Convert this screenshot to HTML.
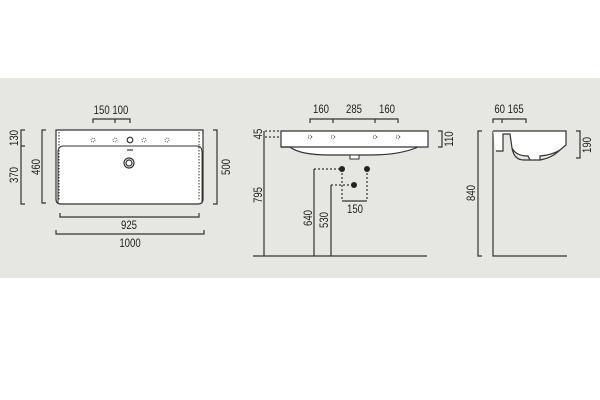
<!DOCTYPE html>
<html><head><meta charset="utf-8"><style>
html,body{margin:0;padding:0;background:#fff}
svg{display:block}
text{font-family:"Liberation Sans Narrow","Liberation Sans",sans-serif;font-size:12px;fill:#222}
</style></head><body>
<svg width="600" height="400" viewBox="0 0 600 400">
<rect x="0" y="78" width="600" height="200" fill="#e6e6e2"/>
<g stroke="#333" fill="none" stroke-width="1.2">
<path d="M56,130 H203 V199 Q203,204 198,204 H61 Q56,204 56,199 Z" fill="#fff"/>
<path d="M58,203 V152 Q58,146 64,146 H196 Q202,146 202,152 V203" stroke-width="1"/>
<path d="M59,132 V200 M199,132 V200" stroke-dasharray="1.5,1.5" stroke-width="1"/>
<circle cx="93" cy="140" r="2" stroke-width="0.8" stroke-dasharray="1,1"/>
<circle cx="115" cy="140" r="2" stroke-width="0.8" stroke-dasharray="1,1"/>
<circle cx="130" cy="140" r="2.8"/>
<circle cx="144" cy="140" r="2" stroke-width="0.8" stroke-dasharray="1,1"/>
<circle cx="167" cy="140" r="2" stroke-width="0.8" stroke-dasharray="1,1"/>
<line x1="127" y1="150" x2="133" y2="150"/>
<circle cx="129" cy="163" r="5"/><circle cx="129" cy="163" r="3"/>
<path d="M93,123 V119 H130 V123 M115,119 V123"/>
<path d="M25,130 H21 V204 H25 M21,146 H25"/>
<path d="M46,130 H42 V203 H46"/>
<path d="M213,130 H217 V204 H213"/>
<path d="M60,213 V217 H199 V213"/>
<path d="M56,230 V234 H204 V230"/>
<path d="M281,131 H428 V147 H418 Q400,155 370,155 H330 Q300,155 290,147 H281 Z" fill="#fff"/>
<line x1="281" y1="147" x2="418" y2="147"/>
<rect x="350" y="155" width="9" height="4" fill="#fff" stroke-width="1"/>
<g stroke-width="0.8" stroke-dasharray="1,1">
<circle cx="310" cy="137" r="1.8"/><circle cx="333" cy="137" r="1.8"/><circle cx="375" cy="137" r="1.8"/><circle cx="398" cy="137" r="1.8"/>
</g>
<path d="M310,123 V119 H398 V123 M333,119 V123 M375,119 V123"/>
<path d="M265,131 H281 M265,137 H281" stroke-dasharray="2,2"/>
<path d="M264,131 V256"/>
<path d="M253,256 H427"/>
<path d="M314,256 V169"/><path d="M314,169 H342 M331,185 H354 M342,169 V201 M367,169 V201" stroke-dasharray="2,2"/>
<path d="M331,256 V185"/>
<path d="M342,201 H367"/>
<path d="M438,131 H442 V147 H438"/>
<path d="M493,123 V119 H526 V123 M502,119 V123"/>
<path d="M493,131 V256 H567"/>
<path d="M493,131 H566 V145 L560,150 Q552,155 540,156 L540,160 H530 L528,156 Q516,156 512,148 L510,134 H503 V151 H496" fill="#fff"/>
<path d="M512,148 Q514,160 524,160 H530 M540,160 Q552,158 560,150"/>
<path d="M576,131 H580 V158 H576"/>
<path d="M482,131 H478 V256 H482"/>
</g>
<circle cx="342" cy="169" r="3" fill="#222"/><circle cx="367" cy="169" r="3" fill="#222"/><circle cx="354" cy="185" r="3" fill="#222"/>
<g text-anchor="middle">
<text transform="translate(111,114) scale(0.8,1)">150 100</text>
<text transform="translate(129,229) scale(0.8,1)">925</text>
<text transform="translate(130,247) scale(0.8,1)">1000</text>
<text transform="translate(18,138) rotate(-90) scale(0.8,1)">130</text>
<text transform="translate(18,175) rotate(-90) scale(0.8,1)">370</text>
<text transform="translate(40,167) rotate(-90) scale(0.8,1)">460</text>
<text transform="translate(230,167) rotate(-90) scale(0.8,1)">500</text>
<text transform="translate(321,113) scale(0.8,1)">160</text>
<text transform="translate(354,113) scale(0.8,1)">285</text>
<text transform="translate(387,113) scale(0.8,1)">160</text>
<text transform="translate(262,134) rotate(-90) scale(0.8,1)">45</text>
<text transform="translate(262,195) rotate(-90) scale(0.8,1)">795</text>
<text transform="translate(312,218) rotate(-90) scale(0.8,1)">640</text>
<text transform="translate(328,220) rotate(-90) scale(0.8,1)">530</text>
<text transform="translate(355,213) scale(0.8,1)">150</text>
<text transform="translate(453,139) rotate(-90) scale(0.8,1)">110</text>
<text transform="translate(509,113) scale(0.8,1)">60 165</text>
<text transform="translate(591,145) rotate(-90) scale(0.8,1)">190</text>
<text transform="translate(475,193) rotate(-90) scale(0.8,1)">840</text>
</g>
</svg>
</body></html>
